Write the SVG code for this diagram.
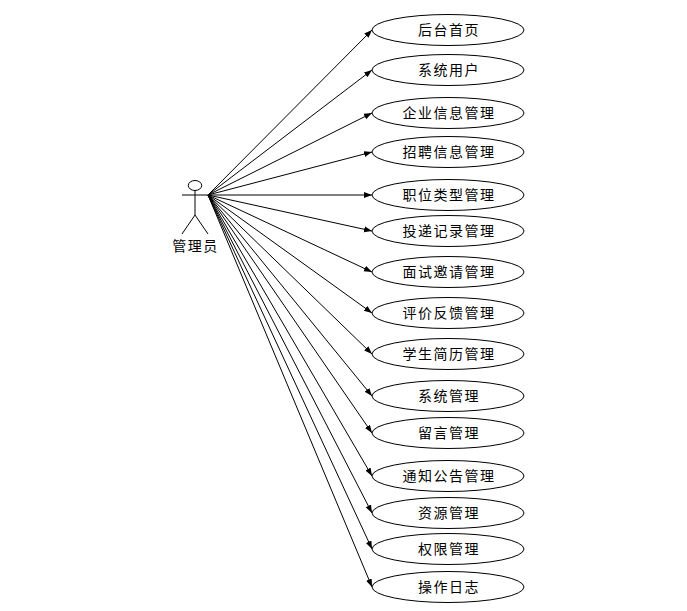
<svg xmlns="http://www.w3.org/2000/svg" width="687" height="611" viewBox="0 0 687 611">
<style>
text{font-family:"Noto Sans CJK SC","Liberation Sans",sans-serif;font-size:14px;letter-spacing:1.5px;fill:#000;text-anchor:middle;dominant-baseline:central}
.uc{fill:#fff;stroke:#000;stroke-width:1}
.c line{stroke:#000;stroke-width:1}
.a line,.a ellipse{stroke:#000;stroke-width:1;fill:#fff}
</style>
<defs><marker id="arr" markerUnits="userSpaceOnUse" markerWidth="9" markerHeight="7" refX="8" refY="3" orient="auto"><path d="M0 0L8 3L0 6Z" fill="#000"/></marker></defs>
<rect width="687" height="611" fill="#fff"/>
<g id="connectors" class="c">
<line x1="208" y1="195" x2="372" y2="30" marker-end="url(#arr)"/>
<line x1="208" y1="195" x2="372" y2="70" marker-end="url(#arr)"/>
<line x1="208" y1="195" x2="372" y2="113" marker-end="url(#arr)"/>
<line x1="208" y1="195" x2="372" y2="152" marker-end="url(#arr)"/>
<line x1="208" y1="195" x2="372" y2="195" marker-end="url(#arr)"/>
<line x1="208" y1="195" x2="372" y2="231" marker-end="url(#arr)"/>
<line x1="208" y1="195" x2="372" y2="272" marker-end="url(#arr)"/>
<line x1="208" y1="195" x2="372" y2="313" marker-end="url(#arr)"/>
<line x1="208" y1="195" x2="372" y2="354" marker-end="url(#arr)"/>
<line x1="208" y1="195" x2="372" y2="396" marker-end="url(#arr)"/>
<line x1="208" y1="195" x2="372" y2="433" marker-end="url(#arr)"/>
<line x1="208" y1="195" x2="372" y2="476" marker-end="url(#arr)"/>
<line x1="208" y1="195" x2="372" y2="513" marker-end="url(#arr)"/>
<line x1="208" y1="195" x2="372" y2="549" marker-end="url(#arr)"/>
<line x1="208" y1="195" x2="372" y2="587" marker-end="url(#arr)"/>
</g>
<g id="actor" class="a">
<ellipse cx="195" cy="185.500" rx="6.700" ry="5"/>
<line x1="195" y1="190.500" x2="195" y2="215"/>
<line x1="182" y1="195" x2="208" y2="195"/>
<line x1="195" y1="215" x2="182" y2="234"/>
<line x1="195" y1="215" x2="208" y2="234"/>
<text x="195.500" y="245">管理员</text>
</g>
<g id="uc1"><ellipse class="uc" cx="448" cy="30" rx="76" ry="15.500"/><text x="449" y="29">后台首页</text></g>
<g id="uc2"><ellipse class="uc" cx="448" cy="70" rx="76" ry="15.500"/><text x="449" y="69">系统用户</text></g>
<g id="uc3"><ellipse class="uc" cx="448" cy="113" rx="76" ry="15.500"/><text x="449" y="112">企业信息管理</text></g>
<g id="uc4"><ellipse class="uc" cx="448" cy="152" rx="76" ry="15.500"/><text x="449" y="151">招聘信息管理</text></g>
<g id="uc5"><ellipse class="uc" cx="448" cy="195" rx="76" ry="15.500"/><text x="449" y="194">职位类型管理</text></g>
<g id="uc6"><ellipse class="uc" cx="448" cy="231" rx="76" ry="15.500"/><text x="449" y="230">投递记录管理</text></g>
<g id="uc7"><ellipse class="uc" cx="448" cy="272" rx="76" ry="15.500"/><text x="449" y="271">面试邀请管理</text></g>
<g id="uc8"><ellipse class="uc" cx="448" cy="313" rx="76" ry="15.500"/><text x="449" y="312">评价反馈管理</text></g>
<g id="uc9"><ellipse class="uc" cx="448" cy="354" rx="76" ry="15.500"/><text x="449" y="353">学生简历管理</text></g>
<g id="uc10"><ellipse class="uc" cx="448" cy="396" rx="76" ry="15.500"/><text x="449" y="395">系统管理</text></g>
<g id="uc11"><ellipse class="uc" cx="448" cy="433" rx="76" ry="15.500"/><text x="449" y="432">留言管理</text></g>
<g id="uc12"><ellipse class="uc" cx="448" cy="476" rx="76" ry="15.500"/><text x="449" y="475">通知公告管理</text></g>
<g id="uc13"><ellipse class="uc" cx="448" cy="513" rx="76" ry="15.500"/><text x="449" y="512">资源管理</text></g>
<g id="uc14"><ellipse class="uc" cx="448" cy="549" rx="76" ry="15.500"/><text x="449" y="548">权限管理</text></g>
<g id="uc15"><ellipse class="uc" cx="448" cy="587" rx="76" ry="15.500"/><text x="449" y="586">操作日志</text></g>
</svg>
